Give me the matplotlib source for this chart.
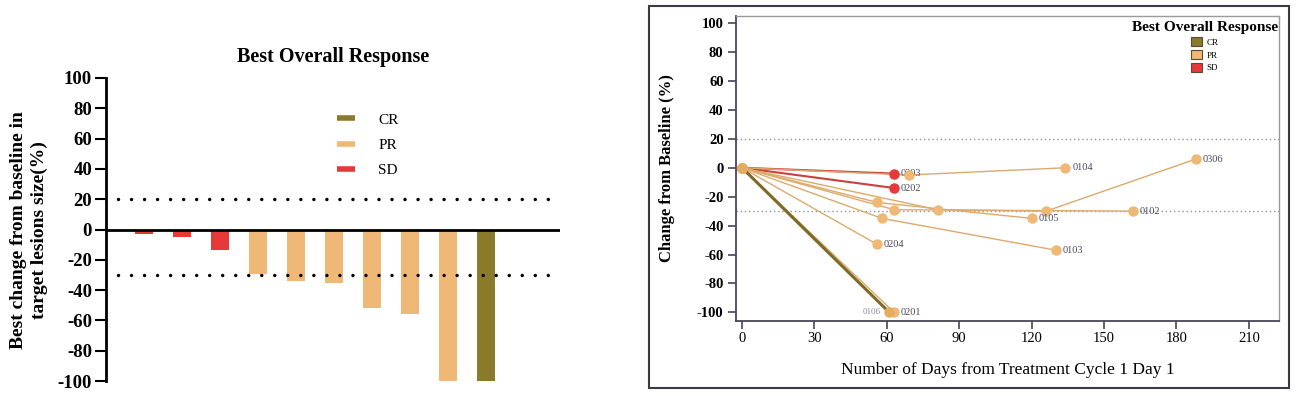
import matplotlib
matplotlib.use("Agg")
import matplotlib.pyplot as plt
from matplotlib.lines import Line2D
from matplotlib.patches import Patch, Rectangle

plt.rcParams['font.family'] = 'serif'
plt.rcParams['font.serif'] = ['Liberation Serif', 'DejaVu Serif']
plt.rcParams['axes.unicode_minus'] = False

W, H = 1296, 396

def fx(px):
    return px / W

def fy(py):
    return 1 - py / H

# colours per response
colors = {'CR': '#8a7a2c', 'PR': '#f0b877', 'SD': '#e8393a'}

# waterfall data (left)
bar_resp = ['SD', 'SD', 'SD', 'PR', 'PR', 'PR', 'PR', 'PR', 'PR', 'CR']
bar_change = [-3, -5, -13.5, -29.5, -34, -35, -52, -56, -100, -100]

# spider data (right)
pt_ids = ['0203', '0202', '0104', '0306', '0102', '0105', '0103', '0204', '0201', '0106']
pt_resp = ['SD', 'SD', 'PR', 'PR', 'PR', 'PR', 'PR', 'PR', 'PR', 'CR']
pt_days = [[0, 63], [0, 63], [0, 69, 134], [0, 81, 126, 188], [0, 63, 162],
           [0, 56, 120], [0, 58, 130], [0, 56], [0, 63], [0, 61]]
pt_change = [[0, -4], [0, -14], [0, -5, 0], [0, -29, -30, 6], [0, -29, -30],
             [0, -24, -35], [0, -35, -57], [0, -53], [0, -100], [0, -100]]

fig = plt.figure(figsize=(W / 100, H / 100), dpi=100)

# ---------------- left: waterfall ----------------
ax1 = fig.add_axes([fx(106), fy(381), fx(560) - fx(106), fy(78) - fy(381)])
xs = list(range(len(bar_change)))
ax1.bar(xs, bar_change, width=0.46, color=[colors[r] for r in bar_resp], zorder=2)
ax1.set_xlim(-1.0, 10.95)
ax1.set_ylim(-100, 100)
ax1.axhline(0, color='black', lw=2, zorder=3)
dots = (0, (0.001, 3.75))
for yv in (20, -30):
    ax1.plot([-0.68, 10.8], [yv, yv], color='black', lw=2.5, linestyle=dots,
             dash_capstyle='round', zorder=4)
for s in ('top', 'right', 'bottom'):
    ax1.spines[s].set_visible(False)
ax1.spines['left'].set_linewidth(2)
ax1.set_xticks([])
ax1.set_yticks(range(-100, 101, 20))
ax1.tick_params(axis='y', length=8, width=1.5, labelsize=13.5, pad=2)
for t in ax1.get_yticklabels():
    t.set_fontweight('bold')

fig.text(fx(333), fy(57), 'Best Overall Response', ha='center', va='center',
         fontsize=14.5, fontweight='bold')
fig.text(fx(29), fy(230), 'Best change from baseline in\ntarget lesions size(%)',
         rotation=90, ha='center', va='center', fontsize=14, fontweight='bold',
         multialignment='center', linespacing=1.35)

h1 = [Line2D([], [], color=colors[k], lw=4, solid_capstyle='butt') for k in ('CR', 'PR', 'SD')]
ax1.legend(h1, ['CR', 'PR', 'SD'], loc='upper left',
           bbox_to_anchor=(fx(337), fy(113)), bbox_transform=fig.transFigure,
           frameon=False, fontsize=11, handlelength=1.2, handletextpad=1.5,
           labelspacing=0.75, borderpad=0, borderaxespad=0)

# ---------------- right: spider ----------------
fig.add_artist(Rectangle((fx(649), fy(388)), fx(1289) - fx(649), fy(6) - fy(388),
                         transform=fig.transFigure, fill=False,
                         edgecolor='#3d3a48', lw=1.5))

ax2 = fig.add_axes([fx(736), fy(321), fx(1279) - fx(736), fy(16) - fy(321)])
ax2.set_xlim(-2.5, 222.5)
ax2.set_ylim(-106, 105)
for yv in (20, -30):
    ax2.axhline(yv, color='#8c919c', lw=1, linestyle=(0, (1, 2)), zorder=1)

line_cols = {'CR': '#7d6a26', 'PR': '#dcaa6c', 'SD': '#c9403c'}
line_w = {'CR': 2.2, 'PR': 1.0, 'SD': 1.5}
for pid, resp, d, c in zip(pt_ids, pt_resp, pt_days, pt_change):
    ax2.plot(d, c, color=line_cols[resp], lw=line_w[resp], zorder=2)
    ax2.plot(d, c, 'o', color=colors[resp] if resp != 'CR' else '#e2ad62',
             ms=6.5, zorder=3)
    if pid == '0106':
        ax2.annotate(pid, (d[-1], c[-1]), xytext=(-6, 0), textcoords='offset points',
                     ha='right', va='center', fontsize=6.5, color='#8a8f9a')
    else:
        ax2.annotate(pid, (d[-1], c[-1]), xytext=(5, 0), textcoords='offset points',
                     ha='left', va='center', fontsize=7.5, color='#4a4a5a')

ax2.set_xticks(range(0, 211, 30))
ax2.set_yticks(range(-100, 101, 20))
for s in ('left', 'bottom'):
    ax2.spines[s].set_color('#4a4458')
    ax2.spines[s].set_linewidth(1.3)
for s in ('top', 'right'):
    ax2.spines[s].set_color('#9a9a9a')
    ax2.spines[s].set_linewidth(1)
ax2.tick_params(axis='both', length=6, width=1.2, color='#4a4458', labelsize=10.5)
ax2.tick_params(axis='y', pad=3)
ax2.tick_params(axis='x', pad=2)
for t in ax2.get_yticklabels():
    t.set_fontweight('bold')
ax2.set_xlabel('Number of Days from Treatment Cycle 1 Day 1', fontsize=12.5, labelpad=12)
fig.text(fx(667), fy(168), 'Change from Baseline (%)', rotation=90, ha='center',
         va='center', fontsize=12, fontweight='bold')

h2 = [Patch(facecolor=colors[k], edgecolor='#5a4a30', lw=0.8) for k in ('CR', 'PR', 'SD')]
ax2.legend(h2, ['CR', 'PR', 'SD'], loc='upper right',
           bbox_to_anchor=(fx(1278), fy(21)), bbox_transform=fig.transFigure,
           frameon=False, fontsize=6.5, title='Best Overall Response',
           title_fontproperties={'weight': 'bold', 'size': 11},
           handlelength=1.2, handleheight=1.2, handletextpad=0.5,
           labelspacing=0.35, borderpad=0, borderaxespad=0, alignment='center')

fig.savefig('out.png', dpi=100)
